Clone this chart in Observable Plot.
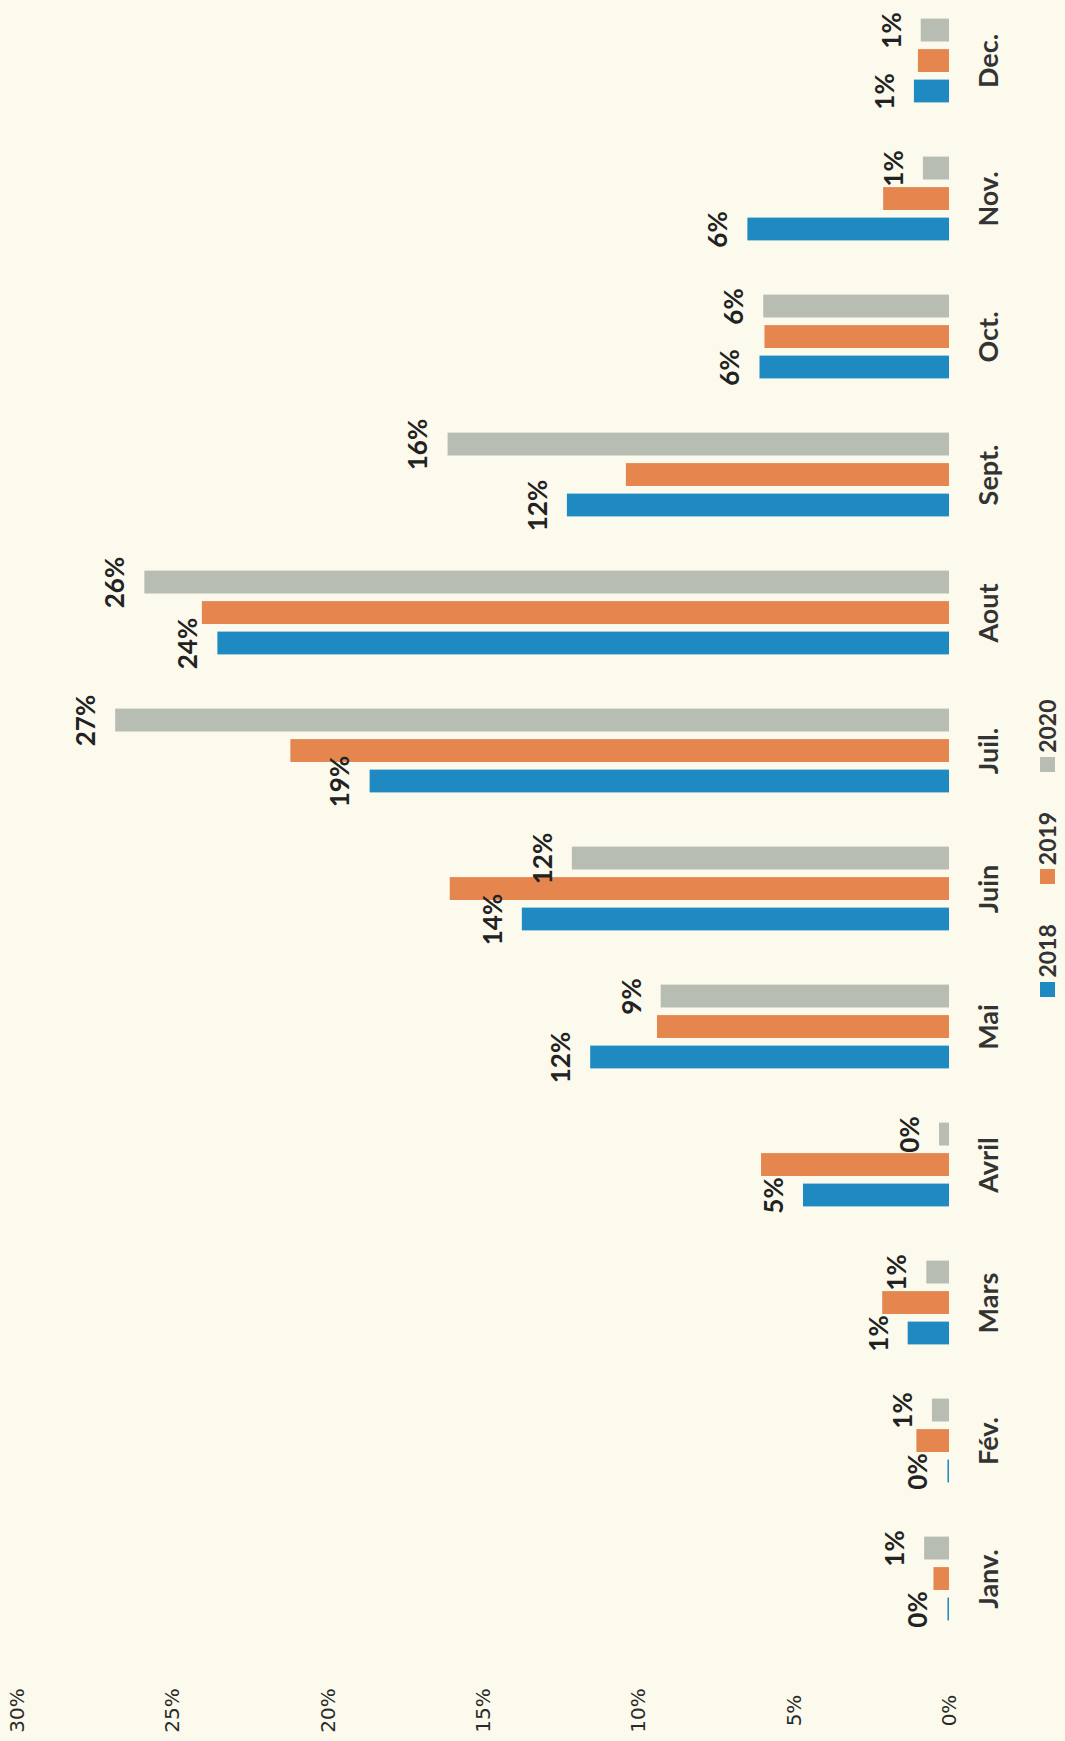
<!DOCTYPE html>
<html>
<head>
<meta charset="utf-8">
<script src="https://cdn.jsdelivr.net/npm/d3@7"></script>
<script src="https://cdn.jsdelivr.net/npm/@observablehq/plot@0.6"></script>
<style>
  html, body { margin: 0; padding: 0; background: #fbfaec; overflow: hidden; }
  #wrap { position: relative; width: 1065px; height: 1741px; }
  #legend { position: absolute; left: 897px; top: 833px; width: 300px; height: 30px;
            transform: rotate(-90deg); transform-origin: 50% 50%;
            display: flex; justify-content: center; align-items: center; }
  #legend > div { margin: 0 !important; min-height: 0 !important; }
  #legend span { margin-right: 40px !important; }
  #legend span:last-child { margin-right: 0 !important; }
  #legend svg { margin-right: 4px !important; width: 15px !important; height: 15px !important; }
</style>
</head>
<body>
<div id="wrap"><div id="chart"></div><div id="legend"></div></div>
<script>
const months = ["Janv.", "Fév.", "Mars", "Avril", "Mai", "Juin", "Juil.", "Aout", "Sept.", "Oct.", "Nov.", "Dec."];
const years = ["2018", "2019", "2020"];
const v2018 = [0.05, 0.05, 1.33, 4.7, 11.55, 13.75, 18.65, 23.55, 12.3, 6.1, 6.49, 1.13];
const v2019 = [0.5, 1.05, 2.15, 6.05, 9.4, 16.07, 21.2, 24.05, 10.4, 5.94, 2.12, 1.0];
const v2020 = [0.8, 0.55, 0.73, 0.32, 9.28, 12.14, 26.84, 25.9, 16.14, 5.98, 0.84, 0.91];
const xTicks = [0, 5, 10, 15, 20, 25, 30];
const colors = ["#1f8ac2", "#e6864f", "#b7bdb3"];

const rows = (vals, year) => vals.map((v, i) => ({month: months[i], year, value: v}));
const r2018 = rows(v2018, "2018");
const r2019 = rows(v2019, "2019");
const r2020 = rows(v2020, "2020");

const labelFont = {fontFamily: "Lato", fontWeight: "bold", fontSize: 26, fill: "#222", rotate: -90,
  textAnchor: "middle", lineAnchor: "middle"};

const chart = Plot.plot({
  width: 1065,
  height: 1741,
  marginLeft: 17,
  marginRight: 116,
  marginTop: 8,
  marginBottom: 111,
  style: {background: "#fbfaec", fontFamily: "Lato", overflow: "visible"},
  x: {domain: [0, 30], reverse: true, axis: null},
  y: {domain: months.slice().reverse(), paddingInner: 0.285, paddingOuter: 0, axis: null},
  marks: [
    Plot.barX(r2020, {x: "value", y: "month", fill: colors[2], insetTop: 7.6, insetBottom: 68.5}),
    Plot.barX(r2019, {x: "value", y: "month", fill: colors[1], insetTop: 38.1, insetBottom: 38}),
    Plot.barX(r2018, {x: "value", y: "month", fill: colors[0], insetTop: 68.6, insetBottom: 7.6}),
    Plot.text(r2018, {x: "value", y: "month", text: d => Math.round(d.value) + "%", dx: -29, dy: 30.5, ...labelFont}),
    Plot.text(r2020, {x: "value", y: "month", text: d => Math.round(d.value) + "%", dx: -29, dy: -30.5, ...labelFont}),
    Plot.text(months, {y: d => d, text: d => d, frameAnchor: "right", dx: 40, rotate: -90,
      textAnchor: "middle", lineAnchor: "middle",
      fontFamily: "Lato", fontWeight: "bold", fontSize: 27, fill: "#333"}),
    Plot.text(xTicks, {x: d => d, text: d => d + "%", frameAnchor: "bottom", dy: 80, rotate: -90,
      textAnchor: "middle", lineAnchor: "middle",
      fontFamily: "DejaVu Sans", fontSize: 20, fill: "#2a2a2a"})
  ]
});
document.getElementById("chart").appendChild(chart);

const legend = Plot.legend({
  color: {domain: years, range: colors},
  legend: "swatches",
  swatchSize: 15,
  style: {fontFamily: "Lato", fontWeight: "bold", fontSize: "23px", color: "#333", background: "transparent"}
});
document.getElementById("legend").appendChild(legend);
</script>
</body>
</html>
